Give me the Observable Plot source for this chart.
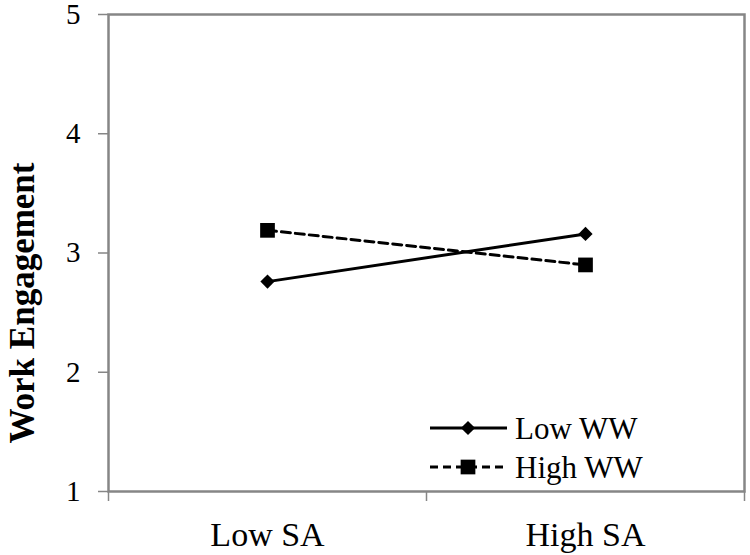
<!DOCTYPE html>
<html>
<head>
<meta charset="utf-8">
<script src="https://cdn.jsdelivr.net/npm/d3@7"></script>
<script src="https://cdn.jsdelivr.net/npm/@observablehq/plot@0.6"></script>
<style>
  html, body { margin: 0; padding: 0; background: #fff; }
  #wrap { position: relative; width: 750px; height: 555px; font-family: "Liberation Serif", "Times New Roman", serif; }
  #legend { position: absolute; left: 428px; top: 405px; }
</style>
</head>
<body>
<div id="wrap"></div>
<script>
// ---- data ----
const categories = ["Low SA", "High SA"];
const seriesNames = ["Low WW", "High WW"];
const lowWW = [2.76, 3.16];
const highWW = [3.19, 2.90];
const yTicks = [1, 2, 3, 4, 5];
const yLabel = "Work Engagement";

// ---- styles per series ----
const seriesSymbols = ["diamond2", "square"];
const seriesDash = [null, "9,5"];
const seriesR = [6.4, 8.3];

const seriesValues = [lowWW, highWW];
const rows = [];
seriesNames.forEach((s, si) => {
  categories.forEach((c, ci) => {
    rows.push({series: s, cat: c, pos: ci + 0.5, value: seriesValues[si][ci]});
  });
});

const gray = "#868686";
const marks = [];
seriesNames.forEach((s, si) => {
  const d = rows.filter(r => r.series === s);
  marks.push(Plot.line(d, {x: "pos", y: "value", stroke: "black", strokeWidth: 3,
    strokeDasharray: seriesDash[si] || undefined}));
  marks.push(Plot.dot(d, {x: "pos", y: "value", symbol: () => seriesSymbols[si], r: seriesR[si],
    fill: "black", stroke: "none"}));
});

const chart = Plot.plot({
  width: 750,
  height: 555,
  marginLeft: 108,
  marginRight: 6,
  marginTop: 14,
  marginBottom: 64,
  style: {fontFamily: "'Liberation Serif', 'Times New Roman', serif", color: "black", background: "white", overflow: "visible"},
  symbol: {type: "identity"},
  x: {domain: [0, categories.length], axis: null},
  y: {domain: [1, 5], axis: null},
  marks: [
    Plot.axisY({ticks: yTicks, tickSize: 10, tickPadding: 18, fontSize: 29, tickFormat: d3.format("d"),
      stroke: gray, strokeWidth: 1.5, label: null}),
    Plot.axisX({ticks: d3.range(categories.length + 1), tickSize: 10, tickFormat: () => "", stroke: gray, strokeWidth: 1.5, label: null}),
    Plot.axisX({ticks: categories.map((c, i) => i + 0.5), tickSize: 0, tickPadding: 30, fontSize: 34,
      tickFormat: d => categories[Math.round(d - 0.5)], label: null}),
    Plot.frame({stroke: gray, strokeWidth: 2.5}),
    ...marks,
    Plot.text([yLabel], {frameAnchor: "left", textAnchor: "middle", rotate: -90, dx: -86, dy: 50,
      fontSize: 35, fontWeight: "bold", fill: "black"})
  ]
});

const wrap = document.getElementById("wrap");
wrap.appendChild(chart);

// ---- legend overlay ----
const lg = d3.select(wrap).append("svg").attr("id", "legend")
  .attr("width", 310).attr("height", 90);
const d3Symbols = {diamond2: d3.symbolDiamond2, square: d3.symbolSquare};
seriesNames.forEach((s, i) => {
  const cy = 23 + i * 39;
  const g = lg.append("g");
  g.append("line").attr("x1", 2).attr("x2", 79).attr("y1", cy).attr("y2", cy)
    .attr("stroke", "black").attr("stroke-width", 3)
    .attr("stroke-dasharray", i === 1 ? "8,5" : null);
  g.append("path").attr("transform", `translate(40,${cy})`)
    .attr("d", d3.symbol(d3Symbols[seriesSymbols[i]], Math.PI * seriesR[i] * seriesR[i])())
    .attr("fill", "black");
  g.append("text").attr("x", 87).attr("y", cy + 10.5)
    .attr("font-size", 31).attr("font-family", "'Liberation Serif', 'Times New Roman', serif")
    .attr("fill", "black").text(s);
});
</script>
</body>
</html>
